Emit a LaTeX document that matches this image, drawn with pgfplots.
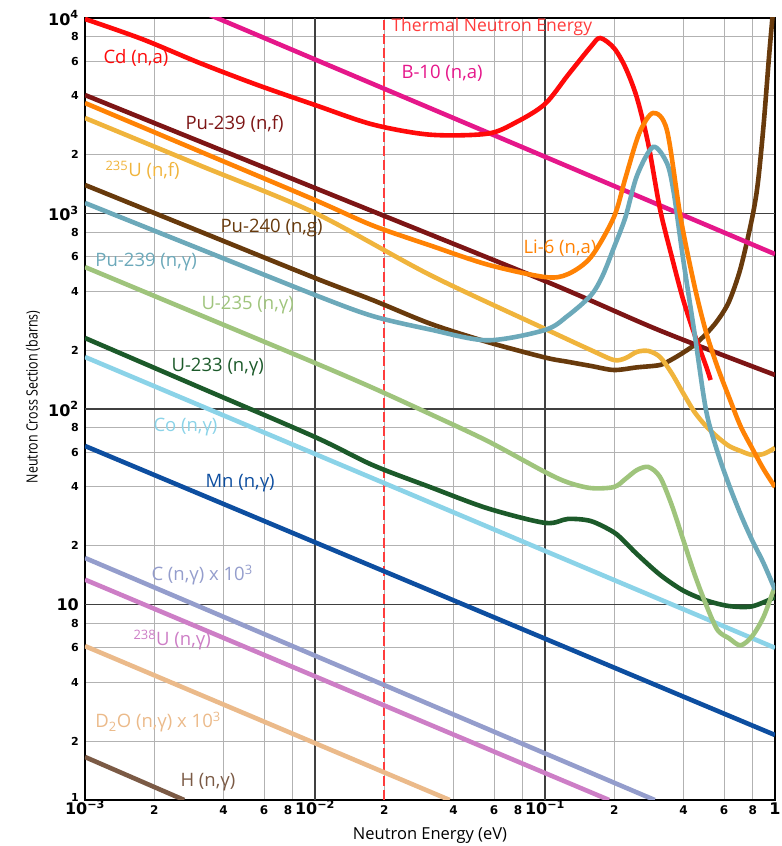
\documentclass[border=0pt]{standalone}
\usepackage{fontspec}
\setmainfont{Open Sans}
\newfontfamily\tickfont{DejaVu Sans}
\usepackage{graphicx}
\usepackage{pgfplots}
\pgfplotsset{compat=1.18}

\definecolor{cdred}{HTML}{FF0A0A}
\definecolor{bpink}{HTML}{E5178A}
\definecolor{puf}{HTML}{7D1515}
\definecolor{lisix}{HTML}{FF8204}
\definecolor{uf}{HTML}{F0B43C}
\definecolor{pubrown}{HTML}{683A0C}
\definecolor{tealc}{HTML}{6CA9BA}
\definecolor{lgreen}{HTML}{9FC47C}
\definecolor{dgreen}{HTML}{1C5A2A}
\definecolor{lblue}{HTML}{8BD3E8}
\definecolor{mnblue}{HTML}{0D4EA0}
\definecolor{lav}{HTML}{949DCC}
\definecolor{orchidc}{HTML}{CD7EC6}
\definecolor{tanc}{HTML}{EBBA8A}
\definecolor{hbrown}{HTML}{7B5A45}
\definecolor{therm}{HTML}{FF3C3C}

\newcommand\dec[1]{{\fontsize{16}{16}\selectfont 10\textsuperscript{#1}}}
\newcommand\ten{{\fontsize{16}{16}\selectfont 10}}
\newcommand\xm[1]{{\fontsize{12}{12}\selectfont #1}}
\newcommand\xe{{\fontsize{12}{12}\selectfont\makebox[0pt][r]{8\hspace{0.5pt}}}}
\newcommand\labfont{\fontsize{18.5}{20}\selectfont}

\begin{document}
\begin{tikzpicture}
\begin{axis}[
  xmode=log, ymode=log,
  scale only axis, width=690pt, height=782pt,
  xmin=0.001, xmax=1, ymin=1, ymax=10000,
  xtick={0.001,0.002,0.004,0.006,0.008,0.01,0.02,0.04,0.06,0.08,0.1,0.2,0.4,0.6,0.8,1},
  xticklabels={\dec{−3},\xm2,\xm4,\xm6,\xe,\dec{−2},\xm2,\xm4,\xm6,\xe,\dec{−1},\xm2,\xm4,\xm6,\xm8,{\fontsize{16}{16}\selectfont 1}},
  ytick={1,2,4,6,8,10,20,40,60,80,100,200,400,600,800,1000,2000,4000,6000,8000,10000},
  yticklabels={\raisebox{6pt}{1},2,4,6,8,\ten,2,4,6,8,\dec{2},2,4,6,8,\dec{3},2,4,6,8,\dec{4}},
  grid=major,
  major grid style={draw=gray!60, line width=0.9pt},
  extra x ticks={0.01,0.1},
  extra y ticks={10,100,1000},
  extra x tick labels={\empty,\empty},
  extra y tick labels={\empty,\empty,\empty},
  extra tick style={major grid style={draw=black!75, line width=1.2pt}},
  major tick length=0pt, minor tick length=0pt,
  axis line style={line width=2.4pt},
  tick label style={font=\tickfont\bfseries\fontsize{11}{12}\selectfont},
  xticklabel style={anchor=base, yshift=-15pt, inner sep=0pt},
  yticklabel style={anchor=east, xshift=-6pt, inner sep=0pt},
  every axis plot/.append style={line width=4.6pt, smooth, tension=0.5},
]
% thermal line
\addplot[therm, line width=2pt, dash pattern=on 10pt off 4pt, sharp plot] coordinates {(0.02,1) (0.02,10000)};

% 1/v lines
\addplot[hbrown, sharp plot] coordinates {(0.001,1.66) (0.0027,1.0)};
\addplot[tanc, sharp plot] coordinates {(0.001,6.13) (0.0385,1.0)};
\addplot[orchidc, sharp plot] coordinates {(0.001,13.4) (0.19,1.0)};
\addplot[lav, sharp plot] coordinates {(0.001,17.3) (0.3,1.0)};
\addplot[mnblue, sharp plot] coordinates {(0.001,64.7) (1,2.15)};
\addplot[lblue, sharp plot] coordinates {(0.001,184.5) (1,6.0)};

% U-233 (n,g)
\addplot[dgreen] coordinates {(0.001,230.7) (0.003162,128.8) (0.01,71.9) (0.01778,51.7) (0.03162,39.9) (0.05623,31.05) (0.1,26.15) (0.1259,27.4) (0.1585,26.7) (0.1995,23.4) (0.2239,20.7) (0.2512,18.1) (0.3162,14.2) (0.3981,11.8) (0.5012,10.5) (0.631,9.82) (0.7943,9.78) (1,10.9)};

% U-235 (n,g)
\addplot[lgreen] coordinates {(0.001,532) (0.003162,302.6) (0.01,172) (0.01778,128.5) (0.03162,94.3) (0.05623,68.6) (0.1,47.6) (0.1259,42.1) (0.1585,39.4) (0.1995,39.9) (0.2239,43.9) (0.2512,48.75) (0.2818,50.5) (0.3162,44.9) (0.3548,32.5) (0.3981,21.6) (0.4467,14.3) (0.5012,10.0) (0.5623,7.41) (0.631,6.72) (0.7079,6.18) (0.7943,6.87) (0.8913,8.63) (1,12.43)};

% Pu-240 (n,g)
\addplot[pubrown] coordinates {(0.001,1399) (0.003162,808.9) (0.01,467.7) (0.01778,361) (0.03162,273.5) (0.05623,220.1) (0.1,183.4) (0.1259,174.3) (0.1585,166) (0.1995,158.3) (0.2512,163.3) (0.3162,167.9) (0.3548,178.9) (0.3981,193.9) (0.4467,213) (0.5012,241.9) (0.5623,283.3) (0.631,354.3) (0.7079,523.2) (0.7943,940.6) (0.8414,1415) (0.8913,2803) (0.9441,6544) (0.9772,10360)};

% Pu-239 (n,f)
\addplot[puf] coordinates {(0.001,4036) (0.01,1350) (0.1,451.5) (0.3162,251.8) (1,149.3)};

% 235U (n,f)
\addplot[uf] coordinates {(0.001,3080) (0.003162,1761) (0.01,1006) (0.03162,485) (0.1,257) (0.1585,200) (0.1995,178) (0.2239,182) (0.2512,196) (0.2818,198) (0.3162,184.5) (0.3548,153) (0.3981,121) (0.4467,96.5) (0.5012,81.8) (0.5623,71.9) (0.631,64.7) (0.7079,61.0) (0.7943,58.2) (0.8913,58.9) (1,63.2)};

% B-10 (n,a)
\addplot[bpink, sharp plot] coordinates {(0.0035,10350) (1,620)};

% Cd
\addplot[cdred] coordinates {(0.001,9883) (0.001778,7791) (0.003162,5880) (0.005623,4543) (0.01,3589) (0.01778,2855) (0.03162,2530) (0.05623,2560) (0.075,2931) (0.1,3632) (0.1259,5110) (0.1585,7148) (0.1738,7900) (0.1995,7023) (0.2239,5569) (0.2512,3897) (0.2818,2241) (0.3162,1054) (0.3548,609) (0.3981,365.3) (0.4467,240.8) (0.5012,166) (0.5248,140.7)};

% Pu-239 (n,g)
\addplot[tealc] coordinates {(0.001,1132) (0.003162,658.3) (0.01,383) (0.01778,299) (0.03162,255.1) (0.05623,224.6) (0.1,253.6) (0.1259,300.4) (0.1585,381.6) (0.1778,479) (0.1995,670.6) (0.2239,959.7) (0.2512,1563) (0.2951,2189) (0.3388,1813) (0.3631,1273) (0.3981,592) (0.4467,244.7) (0.5012,98.8) (0.5623,60.3) (0.631,40.9) (0.7079,29.0) (0.7943,21.4) (0.8913,16.3) (1,11.9)};

% Li-6
\addplot[lisix] coordinates {(0.001,3674) (0.003162,2076) (0.01,1172) (0.01778,869) (0.03162,687) (0.05623,548) (0.1,473) (0.1259,490) (0.1585,599) (0.1995,960) (0.2239,1524) (0.257,2575) (0.2951,3266) (0.3388,2674) (0.389,948) (0.4467,426) (0.5012,248) (0.5623,164) (0.631,115) (0.7079,81.8) (0.7943,63.2) (0.8913,49.3) (1,39.9)};

% labels
\node[anchor=west, text=therm, font=\fontsize{17.5}{19}\selectfont] at (axis cs:0.02077,8995) {Thermal Neutron Energy};
\node[anchor=west, text=cdred, font=\labfont] at (axis cs:0.001162,6244) {Cd (n,a)};
\node[anchor=west, text=bpink, font=\labfont] at (axis cs:0.02296,5232) {B-10 (n,a)};
\node[anchor=west, text=puf, font=\labfont] at (axis cs:0.002641,2869) {Pu-239 (n,f)};
\node[anchor=west, text=uf, font=\labfont] at (axis cs:0.001186,1669) {\textsuperscript{235}U (n,f)};
\node[anchor=west, text=pubrown, font=\labfont] at (axis cs:0.003751,843) {Pu-240 (n,g)};
\node[anchor=west, text=lisix, font=\labfont] at (axis cs:0.0779,666) {Li-6 (n,a)};
\node[anchor=west, text=tealc, font=\labfont] at (axis cs:0.001072,565) {Pu-239 (n,γ)};
\node[anchor=west, text=lgreen, font=\labfont] at (axis cs:0.0031,340.4) {U-235 (n,γ)};
\node[anchor=west, text=dgreen, font=\labfont] at (axis cs:0.002296,164) {U-233 (n,γ)};
\node[anchor=west, text=lblue, font=\labfont] at (axis cs:0.001917,80.9) {Co (n,γ)};
\node[anchor=west, text=mnblue, font=\labfont] at (axis cs:0.003227,41.8) {Mn (n,γ)};
\node[anchor=west, text=lav, font=\labfont] at (axis cs:0.001879,14.16) {C (n,γ) x 10\textsuperscript{3}};
\node[anchor=west, text=orchidc, font=\labfont] at (axis cs:0.001569,6.58) {\textsuperscript{238}U (n,γ)};
\node[anchor=west, text=tanc, font=\labfont] at (axis cs:0.001072,2.506) {D\textsubscript{2}O (n,γ) x 10\textsuperscript{3}};
\node[anchor=west, text=hbrown, font=\labfont] at (axis cs:0.002512,1.236) {H (n,γ)};
\end{axis}
\node[rotate=90, font=\fontsize{15.5}{17}\selectfont] at ([xshift=-52pt,yshift=12pt]current axis.west) {\scalebox{0.8}[1]{Neutron Cross Section (barns)}};
\node[font=\fontsize{16.5}{18}\selectfont] at ([yshift=-36pt]current axis.south) {Neutron Energy (eV)};
\pgfresetboundingbox
\path ([shift={(-85pt,-46pt)}]current axis.south west) rectangle ([shift={(6pt,18pt)}]current axis.north east);
\end{tikzpicture}
\end{document}
